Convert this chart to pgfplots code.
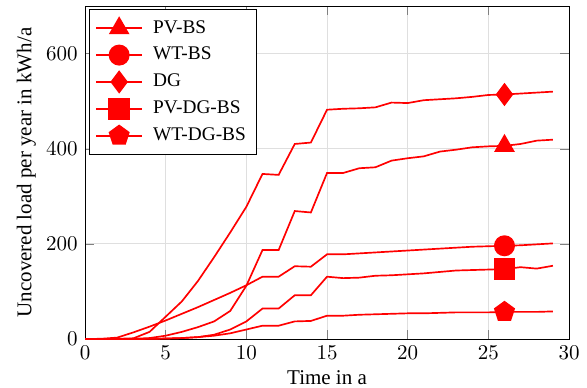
\documentclass[border=0pt]{standalone}
\usepackage{fontspec}
\setmainfont{Liberation Serif}
\usepackage{pgfplots}
\usepackage{pgfplotstable}
\pgfplotsset{compat=1.18}
\pgfplotstableread{
x pv wt dg pvdg wtdg
0 0 0 0 0 0
1 0 0.5 0 0 0
2 0 3 0.5 0 0
3 0.5 14 1.5 0 0
4 2 26 15 0.5 0.3
5 7 39 47 1 1
6 15 53 79 2 2
7 25 67 122 4 4
8 37 82 172 9 7
9 59 97 224 20 12
10 112 113 278 37 20
11 187 131 347 64 28
12 187 131 345 64 28
13 269 153 410 92 37
14 266 152 413 92 38
15 349 178 482 131 49
16 349 178 484 128 49
17 359 180 485 129 51
18 361 182 487 133 52
19 375 184 497 134 53
20 380 186 496 136 54
21 384 188 502 138 54
22 394 190 504 141 55
23 398 192 506 144 56
24 403 194 509 145 56
25 405 195 513 146 56
26 406 196 514 147 57
27 410 197 516 151 57
28 417 199 518 148 57
29 419 201 520 154 58
}\datatable
\begin{document}
\begin{tikzpicture}
\begin{axis}[
  name=main,
  scale only axis,
  width=230.5pt, height=158.6pt,
  xmin=0, xmax=30, ymin=0, ymax=700,
  xtick={0,5,...,30},
  ytick={0,200,400,600},
  grid=major,
  major grid style={gray!25, line width=0.4pt},
  xlabel={Time in a},
  ylabel={Uncovered load per year in kWh/a},
  xlabel style={yshift=2pt},
  ylabel style={yshift=-2pt},
  legend cell align=left,
  legend style={at={(0.008,0.99)}, anchor=north west, font=\fontsize{9.2}{10.5}\selectfont, row sep=1.2pt, inner xsep=3pt, inner ysep=3pt, draw=black,
    /tikz/every odd column/.append style={column sep=3pt}},
  legend image code/.code={\draw[mark indices={2}] plot coordinates {(0cm,0cm) (0.38cm,0cm) (0.76cm,0cm)};},
]
\addplot[red, thick, mark=triangle*, mark size=4.9pt, mark indices={27}, mark options={solid, fill=red}] table[x=x,y=pv] {\datatable};
\addlegendentry{PV-BS}
\addplot[red, thick, mark=*, mark size=4.6pt, mark indices={27}, mark options={solid, fill=red}] table[x=x,y=wt] {\datatable};
\addlegendentry{WT-BS}
\addplot[red, thick, mark=diamond*, mark size=4.9pt, mark indices={27}, mark options={solid, fill=red}] table[x=x,y=dg] {\datatable};
\addlegendentry{DG}
\addplot[red, thick, mark=square*, mark size=4.8pt, mark indices={27}, mark options={solid, fill=red}] table[x=x,y=pvdg] {\datatable};
\addlegendentry{PV-DG-BS}
\addplot[red, thick, mark=pentagon*, mark size=4.8pt, mark indices={27}, mark options={solid, fill=red}] table[x=x,y=wtdg] {\datatable};
\addlegendentry{WT-DG-BS}
\end{axis}
\pgfresetboundingbox
\path ([xshift=-40.5pt,yshift=-22.86pt]main.south west) rectangle ([xshift=8.57pt,yshift=2.86pt]main.north east);
\end{tikzpicture}
\end{document}
